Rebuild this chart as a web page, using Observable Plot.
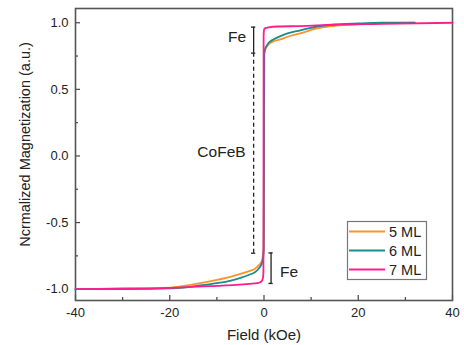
<!DOCTYPE html>
<html><head><meta charset="utf-8">
<script src="https://cdn.jsdelivr.net/npm/d3@7"></script>
<script src="https://cdn.jsdelivr.net/npm/@observablehq/plot@0.6"></script>
<style>
body{margin:0;background:#fff;}
#wrap{position:relative;width:464px;height:345px;font-family:"Liberation Sans",Arial,sans-serif;}
#legend{position:absolute;left:0;top:0;pointer-events:none;}
</style></head><body><div id="wrap"></div>
<script>
const seriesNames = ["5 ML", "6 ML", "7 ML"];
const seriesColors = ["#FF9226", "#1B8C8C", "#FF1C8D"];

const field5 = [-40, -30, -20, -17, -13.5, -10, -7, -5, -3, -2, -1.1, -0.5, -0.2, -0.05, 0.05, 0.2, 0.6, 1, 2, 3.5, 5, 7.7, 11, 14.5, 20, 25, 32];
const mag5   = [-1.0, -0.998, -0.988, -0.975, -0.955, -0.93, -0.905, -0.885, -0.862, -0.848, -0.82, -0.79, -0.74, -0.68, 0.76, 0.79, 0.82, 0.84, 0.86, 0.875, 0.895, 0.92, 0.955, 0.975, 0.99, 0.997, 1.0];

const field6 = [-40, -30, -20, -17, -13.5, -10, -7, -5, -3, -2, -1.1, -0.5, -0.2, -0.05, 0.05, 0.2, 0.6, 1, 2, 3.5, 5, 7.7, 11, 14.5, 20, 25, 32];
const mag6   = [-1.0, -0.999, -0.994, -0.988, -0.972, -0.955, -0.935, -0.915, -0.89, -0.875, -0.845, -0.81, -0.77, -0.7, 0.77, 0.8, 0.83, 0.85, 0.875, 0.9, 0.92, 0.943, 0.97, 0.985, 0.995, 1.0, 1.0];

const field7 = [-40, -30, -20, -10, -6, -3, -1.5, -0.8, -0.4, -0.2, -0.12, -0.08, -0.03, 0.1, 0.5, 1, 3, 7.7, 14.5, 25, 40];
const mag7   = [-1.0, -0.995, -0.99, -0.975, -0.968, -0.96, -0.955, -0.948, -0.935, -0.91, -0.87, 0.9, 0.935, 0.955, 0.962, 0.966, 0.972, 0.975, 0.985, 0.992, 1.0];

const xTicks = [-40, -20, 0, 20, 40];
const xMinor = [-30, -10, 10, 30];
const yTicks = [-1, -0.5, 0, 0.5, 1];
const yMinor = [-0.75, -0.25, 0.25, 0.75];

const xTitle = "Field (kOe)";
const yTitle = "Ncrmalized Magnetization (a.u.)";

// annotation values (data units)
const dashField = -2.2, dashLow = -0.73, dashHigh = 0.772;
const feTopField = -2.2, feTopLow = 0.772, feTopHigh = 0.967;
const feBotField = 1.5, feBotLow = -0.957, feBotHigh = -0.728;
const capHalf = 0.45;
const labelsLeft = [
  {text: "Fe", x: -3.8, y: 0.892},
  {text: "CoFeB", x: -3.9, y: 0.028}
];
const labelsRight = [
  {text: "Fe", x: 3.4, y: -0.87}
];

const rows = [];
[[field5, mag5], [field6, mag6], [field7, mag7]].forEach(([f, m], i) => {
  f.forEach((h, j) => rows.push({series: seriesNames[i], H: h, M: m[j]}));
});

const caps = [
  {y: dashLow, x: dashField}, {y: feTopLow, x: feTopField}, {y: feTopHigh, x: feTopField},
  {y: feBotLow, x: feBotField}, {y: feBotHigh, x: feBotField}
];

const W = 464, H = 345, mL = 75, mR = 12, mT = 8, mB = 45;
const plotW = W - mL - mR, plotH = H - mT - mB;
const majorLen = 5, minorLen = 3;

const fmt1 = d => d.toFixed(1);
const axisColor = "#444";

const chart = Plot.plot({
  width: W, height: H,
  marginLeft: mL, marginRight: mR, marginTop: mT, marginBottom: mB,
  style: {fontFamily: "'Liberation Sans', Arial, sans-serif", fontSize: "13px", color: "#222", background: "white"},
  x: {domain: [-40, 40]},
  y: {domain: [-1.085, 1.107]},
  color: {domain: seriesNames, range: seriesColors},
  marks: [
    Plot.axisX(xTicks, {tickSize: 0, tickPadding: 7, tickFormat: d => String(d), fontSize: 13, label: null}),
    Plot.axisY(yTicks, {tickSize: 0, tickPadding: 7, tickFormat: fmt1, fontSize: 13, label: null}),
    // inward ticks
    Plot.tickX(xTicks, {x: d => d, insetTop: plotH - majorLen, stroke: axisColor, strokeWidth: 1.2}),
    Plot.tickX(xMinor, {x: d => d, insetTop: plotH - minorLen, stroke: axisColor, strokeWidth: 1.2}),
    Plot.tickY(yTicks, {y: d => d, insetRight: plotW - majorLen, stroke: axisColor, strokeWidth: 1.2}),
    Plot.tickY(yMinor, {y: d => d, insetRight: plotW - minorLen, stroke: axisColor, strokeWidth: 1.2}),
    Plot.frame({stroke: "#555", strokeWidth: 1.6}),
    Plot.text([xTitle], {frameAnchor: "bottom", dy: 35, lineAnchor: "middle", textAnchor: "middle", fontSize: 15, fill: "#222"}),
    Plot.text([yTitle], {frameAnchor: "left", rotate: -90, dx: -50, dy: -10, lineAnchor: "middle", textAnchor: "middle", fontSize: 14.5, fill: "#222"}),
    // annotations
    Plot.ruleX([dashField], {y1: dashLow, y2: dashHigh, stroke: "#222", strokeWidth: 1.3, strokeDasharray: "4,3"}),
    Plot.ruleX([feTopField], {y1: feTopLow, y2: feTopHigh, stroke: "#222", strokeWidth: 1.3}),
    Plot.ruleX([feBotField], {y1: feBotLow, y2: feBotHigh, stroke: "#222", strokeWidth: 1.3}),
    Plot.ruleY(caps, {y: "y", x1: d => d.x - capHalf, x2: d => d.x + capHalf, stroke: "#222", strokeWidth: 1.3}),
    Plot.text(labelsLeft, {x: "x", y: "y", text: "text", textAnchor: "end", fontSize: 15.5, fill: "#222"}),
    Plot.text(labelsRight, {x: "x", y: "y", text: "text", textAnchor: "start", fontSize: 15.5, fill: "#222"}),
    Plot.line(rows, {x: "H", y: "M", z: "series", stroke: "series", strokeWidth: 1.8, curve: "monotone-x"})
  ]
});

const wrap = document.getElementById("wrap");
wrap.appendChild(chart);

// legend overlay inside the plot area
const leg = d3.select(wrap).append("svg").attr("id", "legend").attr("width", W).attr("height", H);
leg.append("rect").attr("x", 347.5).attr("y", 221.5).attr("width", 79).attr("height", 58)
  .attr("fill", "white").attr("stroke", "#777").attr("stroke-width", 1.2);
seriesNames.forEach((name, i) => {
  const cy = 231.5 + i * 19;
  leg.append("line").attr("x1", 349).attr("x2", 385).attr("y1", cy).attr("y2", cy)
    .attr("stroke", seriesColors[i]).attr("stroke-width", 1.8);
  leg.append("text").attr("x", 389).attr("y", cy).attr("dy", "0.36em")
    .attr("font-family", "'Liberation Sans', Arial, sans-serif").attr("font-size", 14.5).attr("fill", "#222").text(name);
});
</script>
</body></html>
